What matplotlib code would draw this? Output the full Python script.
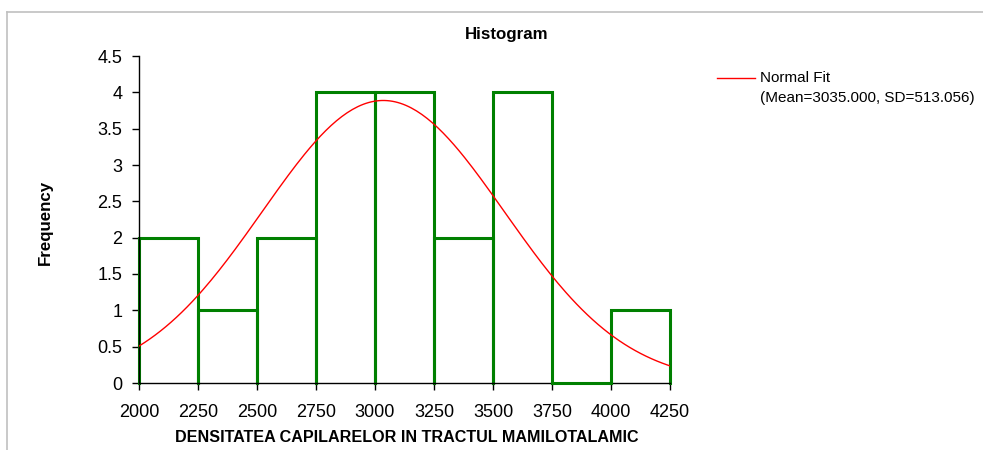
import numpy as np
import matplotlib
matplotlib.use("Agg")
import matplotlib.pyplot as plt
from matplotlib.lines import Line2D

plt.rcParams['font.family'] = ['Liberation Sans', 'DejaVu Sans']

bin_edges = [2000, 2250, 2500, 2750, 3000, 3250, 3500, 3750, 4000, 4250]
frequencies = [2, 1, 2, 4, 4, 2, 4, 0, 1]
fit_mean = 3035.000
fit_sd = 513.056
x_ticks = [2000, 2250, 2500, 2750, 3000, 3250, 3500, 3750, 4000, 4250]
y_ticks = [0, 0.5, 1, 1.5, 2, 2.5, 3, 3.5, 4, 4.5]

W, H = 983, 450
fig = plt.figure(figsize=(W / 100, H / 100), dpi=100)
ax = fig.add_axes([139 / W, 1 - 383 / H, (670 - 139) / W, (383 - 56) / H])

green = '#008000'
for i, f in enumerate(frequencies):
    x0, x1 = bin_edges[i], bin_edges[i + 1]
    if f > 0:
        ax.plot([x0, x0, x1, x1], [0, f, f, 0], color=green, lw=2.2,
                solid_joinstyle='miter', zorder=2, clip_on=False)
    else:
        ax.plot([x0, x1], [0, 0], color=green, lw=2.2, zorder=3, clip_on=False)

n = sum(frequencies)
bw = bin_edges[1] - bin_edges[0]
xs = np.linspace(bin_edges[0], bin_edges[-1], 200)
ys = n * bw / (fit_sd * np.sqrt(2 * np.pi)) * np.exp(-0.5 * ((xs - fit_mean) / fit_sd) ** 2)
ax.plot(xs, ys, color='#ff0000', lw=1.0, zorder=4)

ax.set_xlim(2000, 4250)
ax.set_ylim(0, 4.5)
ax.set_xticks(x_ticks)
ax.set_xticklabels([str(t) for t in x_ticks])
ax.set_yticks(y_ticks)
ax.set_yticklabels([f'{t:g}' for t in y_ticks])
for s in ['top', 'right']:
    ax.spines[s].set_visible(False)
for s in ['left', 'bottom']:
    ax.spines[s].set_linewidth(1.0)
    ax.spines[s].set_color('black')
ax.tick_params(axis='both', direction='out', length=5, width=1, labelsize=13, colors='black')
ax.tick_params(axis='x', pad=10)
ax.tick_params(axis='y', pad=7)

ax.set_xlabel('DENSITATEA CAPILARELOR IN TRACTUL MAMILOTALAMIC', fontsize=11.6, fontweight='bold')
ax.xaxis.set_label_coords((407 - 139) / (670 - 139), -(438 - 383) / (383 - 56))
ax.set_ylabel('Frequency', fontsize=12.2, fontweight='bold')
ax.yaxis.set_label_coords(-(139 - 45) / (670 - 139), (383 - 222) / (383 - 56))
ax.xaxis.label.set_va('center')
ax.yaxis.label.set_va('center')

fig.text(507 / W, 1 - 35 / H, 'Histogram', fontsize=12.2, fontweight='bold', ha='center', va='center')

# legend
fig.add_artist(Line2D([717 / W, 755 / W], [1 - 78 / H, 1 - 78 / H], color='#ff0000', lw=1.0))
fig.text(760 / W, 1 - 78 / H, 'Normal Fit', fontsize=11, ha='left', va='center')
fig.text(760 / W, 1 - 98 / H, '(Mean=3035.000, SD=513.056)', fontsize=11, ha='left', va='center')

# outer frame
fig.add_artist(Line2D([7 / W, 7 / W], [0, 1 - 12 / H], color='#c0c0c0', lw=1.2))
fig.add_artist(Line2D([7 / W, 1], [1 - 12 / H, 1 - 12 / H], color='#c0c0c0', lw=1.2))

fig.savefig('out.png', dpi=100, facecolor='white')
